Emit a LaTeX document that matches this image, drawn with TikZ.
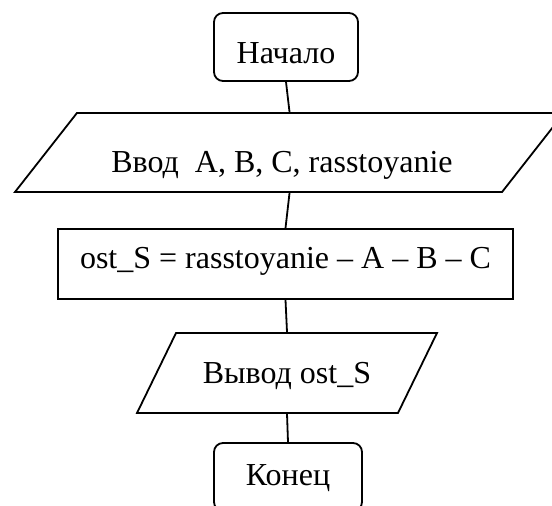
\documentclass[tikz,border=0pt]{standalone}
\usepackage{fontspec}
\setmainfont{Liberation Serif}
\usetikzlibrary{shapes.geometric}
\begin{document}
\begin{tikzpicture}[x=1pt,y=-1pt,line width=1.8pt,
  txt/.style={font=\fontsize{32}{38}\selectfont},
  term/.style={txt,draw,rounded corners=9pt,inner sep=0pt},
  proc/.style={txt,draw,inner sep=0pt},
  io/.style={txt,draw,trapezium,trapezium stretches body,inner sep=0pt}]
\useasboundingbox (0,0) rectangle (552,506);
\clip (0,0) rectangle (552,506);
\node[term,minimum width=144pt,text height=50pt,text depth=18pt] (start) at (286,47) {Начало};
\node[io,trapezium left angle=51.9,trapezium right angle=128.1,minimum width=549pt,text height=59pt,text depth=20pt] (in) at (289.5,152.5) {Ввод\ \ A, B, C, rasstoyanie\hspace*{15pt}};
\node[proc,minimum width=455pt,text height=39pt,text depth=31pt] (calc) at (285.5,264) {ost\_S = rasstoyanie – A – B – C};
\node[io,trapezium left angle=64,trapezium right angle=116,minimum width=300pt,text height=50pt,text depth=30pt] (out) at (287,373) {Вывод ost\_S};
\node[term,minimum width=148pt,text height=42pt,text depth=26pt] (end) at (288,477) {Конец};
\draw (start.south) -- (in.north);
\draw (in.south) -- (calc.north);
\draw (calc.south) -- (out.north);
\draw (out.south) -- (end.north);
\end{tikzpicture}
\end{document}
